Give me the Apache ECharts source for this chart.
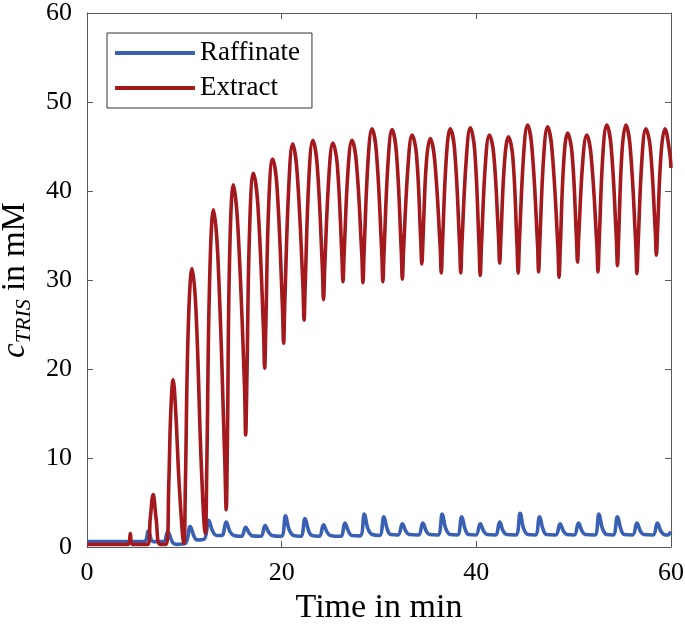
<!DOCTYPE html>
<html>
<head>
<meta charset="utf-8">
<script src="https://cdn.jsdelivr.net/npm/echarts@6/dist/echarts.min.js"></script>
<style>html,body{margin:0;padding:0;background:#fff}#c{width:685px;height:629px}</style>
</head>
<body>
<div id="c"></div>
<script>
const xTicks = [0, 20, 40, 60];
const yTicks = [0, 10, 20, 30, 40, 50, 60];
const seriesNames = ['Raffinate', 'Extract'];

const raffinate = [[0,0.6],[5.85,0.6],[6.3,1.8],[6.8,0.6],[7.85,0.6],[8.3,1.7],[8.8,0.5],[9.2,0.3],[10.1,0.4],[10.6,2.3],[11.0,1.2],[11.3,0.8],[12.05,0.9],[12.5,3.0],[12.9,1.8],[13.3,1.3],[13.85,1.3],[14.3,2.8],[14.7,1.7],[15.1,1.3],[15.85,1.2],[16.3,2.2],[16.65,1.6],[17.0,1.25],[17.85,1.2],[18.3,2.4],[18.65,1.7],[19.0,1.3],[19.95,1.2],[20.4,3.5],[20.75,2.0],[21.2,1.3],[21.95,1.2],[22.4,3.2],[22.75,1.9],[23.1,1.3],[23.85,1.2],[24.3,2.5],[24.65,1.7],[25.0,1.3],[26.05,1.2],[26.5,2.7],[26.85,1.8],[27.2,1.3],[28.05,1.25],[28.5,3.7],[28.85,2.1],[29.3,1.4],[30.05,1.3],[30.5,3.4],[30.85,2.0],[31.2,1.4],[31.95,1.35],[32.4,2.6],[32.75,1.8],[33.1,1.4],[34.05,1.35],[34.5,2.7],[34.85,1.8],[35.2,1.4],[36.05,1.35],[36.5,3.7],[36.85,2.1],[37.3,1.4],[38.05,1.35],[38.5,3.4],[38.85,2.0],[39.2,1.4],[39.95,1.35],[40.4,2.6],[40.75,1.8],[41.1,1.4],[41.95,1.35],[42.4,2.8],[42.75,1.8],[43.1,1.4],[44.05,1.35],[44.5,3.8],[44.85,2.1],[45.3,1.4],[46.05,1.35],[46.5,3.4],[46.85,2.0],[47.2,1.4],[48.15,1.35],[48.6,2.6],[48.95,1.8],[49.3,1.4],[50.05,1.35],[50.5,2.7],[50.85,1.8],[51.2,1.4],[52.15,1.35],[52.6,3.7],[52.95,2.1],[53.4,1.4],[54.05,1.35],[54.5,3.4],[54.85,2.0],[55.2,1.4],[56.05,1.35],[56.5,2.7],[56.85,1.8],[57.2,1.4],[58.15,1.35],[58.6,2.7],[58.95,1.8],[59.3,1.4],[59.6,1.35],[60,1.7]];

const extract = [[0,0.3],[4.25,0.3],[4.45,1.5],[4.65,0.3],[6.25,0.3],[6.5,3.2],[6.8,5.9],[7.1,3.2],[7.5,0.3],[8.15,0.3],[8.4,7.0],[8.6,15.0],[8.85,18.8],[9.1,15.5],[9.5,6.5],[9.95,0.4],[10.1,6.5],[10.4,24.5],[10.8,31.3],[11.2,26.5],[11.75,9.0],[12.15,1.5],[12.3,8.5],[12.6,30.0],[13.0,37.9],[13.45,32.5],[14.15,10.0],[14.3,4.2],
[14.42,11.5],[14.65,32.5],[15.05,40.7],[15.5,36.0],[16.18,18.2],[16.3,12.6],
[16.42,18.5],[16.7,35.5],[17.1,42.0],[17.55,38.5],[18.13,24.5],[18.25,20.1],
[18.37,24.8],[18.67,38.5],[19.07,43.6],[19.52,40.5],[20.08,27.0],[20.2,22.9],
[20.32,27.4],[20.73,40.5],[21.13,45.3],[21.58,42.2],[22.18,29.5],[22.3,25.5],
[22.42,29.5],[22.8,41.5],[23.2,45.7],[23.65,42.9],[24.18,31.4],[24.3,27.8],
[24.42,31.3],[24.86,41.8],[25.26,45.4],[25.71,43.0],[26.18,32.9],[26.3,29.8],
[26.42,33.0],[26.82,42.4],[27.22,45.7],[27.67,43.3],[28.23,32.9],[28.35,29.7],
[28.47,33.2],[28.88,43.5],[29.28,47.0],[29.73,44.4],[30.28,33.2],[30.4,29.8],
[30.52,33.2],[30.94,43.4],[31.34,46.9],[31.79,44.3],[32.28,33.5],[32.4,30.1],
[32.52,33.3],[33.0,43.1],[33.4,46.3],[33.85,44.1],[34.28,34.7],[34.4,31.8],
[34.52,34.6],[34.86,43.1],[35.26,45.9],[35.71,43.6],[36.28,33.8],[36.4,30.8],
[36.52,34.0],[36.92,43.8],[37.32,47.0],[37.77,44.6],[38.28,34.0],[38.4,30.8],
[38.52,34.1],[38.98,43.8],[39.38,47.1],[39.83,44.6],[40.28,33.8],[40.4,30.5],
[40.52,33.7],[40.94,43.2],[41.34,46.3],[41.79,44.1],[42.28,34.8],[42.4,31.9],
[42.52,34.7],[42.9,43.3],[43.3,46.1],[43.75,43.8],[44.18,33.9],[44.3,30.8],
[44.42,34.1],[44.86,44.1],[45.26,47.4],[45.71,44.9],[46.28,34.2],[46.4,30.9],
[46.52,34.2],[46.92,43.9],[47.32,47.2],[47.77,44.7],[48.38,33.7],[48.5,30.3],
[48.62,33.5],[48.98,43.3],[49.38,46.5],[49.83,44.3],[50.28,34.9],[50.4,32.0],
[50.52,34.9],[50.94,43.4],[51.34,46.3],[51.79,44.0],[52.38,34.0],[52.5,30.9],
[52.62,34.2],[53.0,44.1],[53.4,47.4],[53.85,45.0],[54.38,34.8],[54.5,31.6],
[54.62,34.8],[54.96,44.3],[55.36,47.4],[55.81,44.9],[56.38,34.0],[56.5,30.7],
[56.62,34.0],[57.02,43.7],[57.42,47.0],[57.87,44.9],[58.38,35.6],[58.5,32.8],
[58.62,35.6],[58.98,44.2],[59.38,47.0],[59.83,44.6],[60,42.6]];

const FONT = 'Liberation Serif';
const AX = '#5a5a5a';
const chart = echarts.init(document.getElementById('c'), null, {renderer: 'canvas'});

function axisBase(showLabels) {
  return {
    axisLine: {show: true, onZero: false, lineStyle: {color: AX, width: 1}},
    axisTick: {show: true, inside: true, length: 6, lineStyle: {color: AX}},
    splitLine: {show: false},
    axisLabel: {show: showLabels, color: '#000', fontFamily: FONT, fontSize: 26}
  };
}

chart.setOption({
  animation: false,
  backgroundColor: '#fff',
  grid: {left: 87, right: 14, top: 13, bottom: 82, containLabel: false, outerBoundsMode: 'none'},
  legend: {
    data: seriesNames,
    orient: 'vertical',
    left: 107, top: 33,
    padding: [6, 12, 6, 8],
    itemGap: 7,
    itemWidth: 80,
    itemHeight: 4,
    icon: 'rect',
    borderColor: '#333',
    borderWidth: 1,
    borderRadius: 0,
    backgroundColor: '#fff',
    textStyle: {fontFamily: FONT, fontSize: 27, color: '#000', lineHeight: 28}
  },
  xAxis: [
    Object.assign(axisBase(true), {
      type: 'value', min: xTicks[0], max: xTicks[xTicks.length - 1], interval: 20,
      position: 'bottom',
      name: 'Time in min', nameLocation: 'middle', nameGap: 40,
      nameTextStyle: {fontFamily: FONT, fontSize: 34, color: '#000'},
      axisLabel: {show: true, color: '#000', fontFamily: FONT, fontSize: 26, margin: 13}
    }),
    Object.assign(axisBase(false), {
      type: 'value', min: xTicks[0], max: xTicks[xTicks.length - 1], interval: 20, position: 'top'
    })
  ],
  yAxis: [
    Object.assign(axisBase(true), {
      type: 'value', min: yTicks[0], max: yTicks[yTicks.length - 1], interval: 10,
      position: 'left',
      name: '{c|c}{s|TRIS}{n| in mM}', nameLocation: 'middle', nameGap: 50,
      nameTextStyle: {
        fontFamily: FONT, fontSize: 32, color: '#000',
        rich: {
          c: {fontFamily: FONT, fontSize: 33, fontStyle: 'italic', color: '#000', verticalAlign: 'bottom', padding: [0, 0, 3, 0]},
          s: {fontFamily: FONT, fontSize: 22, fontStyle: 'italic', color: '#000', verticalAlign: 'bottom'},
          n: {fontFamily: FONT, fontSize: 33, color: '#000', verticalAlign: 'bottom', padding: [0, 0, 3, 0]}
        }
      },
      axisLabel: {show: true, color: '#000', fontFamily: FONT, fontSize: 26, margin: 15}
    }),
    Object.assign(axisBase(false), {
      type: 'value', min: yTicks[0], max: yTicks[yTicks.length - 1], interval: 10, position: 'right'
    })
  ],
  series: [
    {
      name: seriesNames[0], type: 'line', data: raffinate,
      xAxisIndex: 0, yAxisIndex: 0,
      symbol: 'none', showSymbol: false, smooth: 0.4,
      lineStyle: {color: '#3a60b4', width: 3.6},
      itemStyle: {color: '#3a60b4'}
    },
    {
      name: seriesNames[1], type: 'line', data: extract,
      xAxisIndex: 0, yAxisIndex: 0,
      symbol: 'none', showSymbol: false, smooth: 0.4,
      lineStyle: {color: '#a3191d', width: 3.6},
      itemStyle: {color: '#a3191d'}
    }
  ]
});
</script>
</body>
</html>
